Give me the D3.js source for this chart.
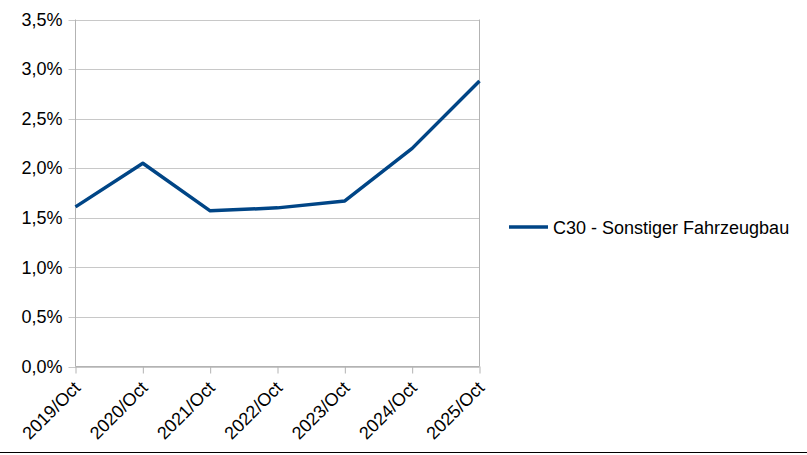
<!DOCTYPE html>
<html>
<head>
<meta charset="utf-8">
<script src="https://cdn.jsdelivr.net/npm/d3@7"></script>
<style>
  body { margin: 0; background: #fff; }
  text { font-family: "Liberation Sans", Arial, sans-serif; }
</style>
</head>
<body>
<div id="chart"></div>
<script>
var categories = ["2019/Oct", "2020/Oct", "2021/Oct", "2022/Oct", "2023/Oct", "2024/Oct", "2025/Oct"]
var values = [1.61, 2.05, 1.57, 1.60, 1.67, 2.20, 2.88]
var yTicks = [0, 0.5, 1, 1.5, 2, 2.5, 3, 3.5]
var seriesName = "C30 - Sonstiger Fahrzeugbau"

var W = 807, H = 455
var pLeft = 75.5, pRight = 479.5, pTop = 19.5, pBottom = 366.5

var svg = d3.select("#chart").append("svg")
  .attr("width", W).attr("height", H)

var x = d3.scalePoint().domain(categories).range([pLeft, pRight])
var y = d3.scaleLinear().domain([0, 3.5]).range([pBottom, pTop])

var fmt = function(d) { return d3.format(".1f")(d).replace(".", ",") + "%" }

// gridlines
svg.append("g").selectAll("line")
  .data(yTicks)
  .enter().append("line")
    .attr("x1", pLeft - 7).attr("x2", pRight)
    .attr("y1", function(d) { return Math.round(y(d)) + 0.5 })
    .attr("y2", function(d) { return Math.round(y(d)) + 0.5 })
    .style("stroke", "#c8c8c8")
    .style("stroke-width", 1)

// y axis
var yAxis = svg.append("g")
  .attr("transform", "translate(" + pLeft + ",0)")
  .call(d3.axisLeft(y).tickValues(yTicks).tickFormat(fmt).tickSize(0).tickPadding(13))
yAxis.select(".domain").remove()
yAxis.selectAll("text").attr("font-size", "18px").attr("fill", "#000")
  .attr("font-family", "Liberation Sans, Arial, sans-serif")

svg.append("line")
  .attr("x1", pLeft).attr("x2", pLeft).attr("y1", pTop).attr("y2", pBottom)
  .style("stroke", "#b3b3b3")
svg.append("line")
  .attr("x1", pRight).attr("x2", pRight).attr("y1", pTop).attr("y2", pBottom)
  .style("stroke", "#b3b3b3")

// x axis
var xAxis = svg.append("g")
  .attr("transform", "translate(0," + pBottom + ")")
  .call(d3.axisBottom(x).tickSize(7))
xAxis.select(".domain").style("stroke", "#b3b3b3").attr("d", "M" + pLeft + ",0H" + pRight)
xAxis.selectAll(".tick line").style("stroke", "#b3b3b3")
xAxis.selectAll("text")
  .attr("font-size", "18px").attr("fill", "#000")
  .attr("font-family", "Liberation Sans, Arial, sans-serif")
  .attr("text-anchor", "end")
  .attr("x", 0).attr("y", 0).attr("dy", "0.35em")
  .attr("transform", "translate(1,18) rotate(-45)")

// the line
var line = d3.line()
  .x(function(d, i) { return x(categories[i]) })
  .y(function(d) { return y(d) })

svg.append("path")
  .datum(values)
  .attr("d", line)
  .style("fill", "none")
  .style("stroke", "#004586")
  .style("stroke-width", 3.5)
  .style("stroke-linejoin", "round")

// legend
var lg = svg.append("g").attr("transform", "translate(509,227)")
lg.append("line").attr("x1", 0).attr("x2", 39).attr("y1", 0).attr("y2", 0)
  .style("stroke", "#004586").style("stroke-width", 3.5)
lg.append("text").attr("x", 44).attr("y", 6.5)
  .attr("font-size", "18px").text(seriesName)

// bottom border
svg.append("line").attr("x1", 0).attr("x2", W).attr("y1", 452.5).attr("y2", 452.5)
  .style("stroke", "#000")
</script>
</body>
</html>
